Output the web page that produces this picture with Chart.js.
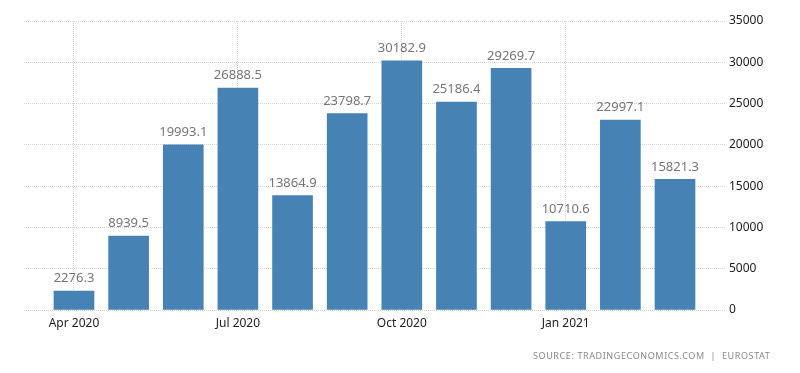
<!DOCTYPE html>
<html>
<head>
<meta charset="utf-8">
<script src="https://cdn.jsdelivr.net/npm/chart.js@4/dist/chart.umd.min.js"></script>
<style>
  html, body { margin: 0; padding: 0; background: #fff; }
  #wrap { position: relative; width: 800px; height: 373px; }
  #source { position: absolute; left: 533px; top: 349px; font-family: "Noto Sans", sans-serif; font-size: 9px; color: #8a8a8a; letter-spacing: 0.6px; white-space: nowrap; }
</style>
</head>
<body>
<div id="wrap">
  <canvas id="c" width="800" height="373"></canvas>
  <div id="source">SOURCE: TRADINGECONOMICS.COM &nbsp;|&nbsp; EUROSTAT</div>
</div>
<script>
const months = ["Apr 2020","May 2020","Jun 2020","Jul 2020","Aug 2020","Sep 2020","Oct 2020","Nov 2020","Dec 2020","Jan 2021","Feb 2021","Mar 2021"];
const values = [2276.3, 8939.5, 19993.1, 26888.5, 13864.9, 23798.7, 30182.9, 25186.4, 29269.7, 10710.6, 22997.1, 15821.3];
const xTickIndices = [0, 3, 6, 9];
const yTicks = [0, 5000, 10000, 15000, 20000, 25000, 30000, 35000];

const labelPlugin = {
  id: 'valueLabels',
  afterDatasetsDraw(chart) {
    const ctx = chart.ctx;
    const meta = chart.getDatasetMeta(0);
    ctx.save();
    ctx.font = '13px "Noto Sans", sans-serif';
    ctx.fillStyle = '#777777';
    ctx.textAlign = 'center';
    ctx.textBaseline = 'bottom';
    meta.data.forEach((bar, i) => {
      ctx.fillText(values[i].toFixed(1), bar.x, bar.y - 6);
    });
    ctx.restore();
  }
};

new Chart(document.getElementById('c'), {
  type: 'bar',
  data: {
    datasets: [{
      data: values.map((v, i) => ({ x: i, y: v })),
      backgroundColor: '#4682b4',
      borderWidth: 0,
      barThickness: 40
    }]
  },
  options: {
    responsive: false,
    animation: false,
    layout: { padding: { left: 24, top: 21, right: 0, bottom: 0 } },
    plugins: { legend: { display: false }, tooltip: { enabled: false } },
    scales: {
      x: {
        type: 'linear',
        offset: false,
        bounds: 'ticks',
        min: -0.915,
        max: 11.915,
        afterBuildTicks(scale) { scale.ticks = xTickIndices.map(v => ({ value: v })); },
        afterFit(scale) { scale.height = 63; },
        ticks: {
          callback: (v) => months[v],
          color: '#222222',
          font: { family: '"Noto Sans", sans-serif', size: 12 },
          padding: 6,
          maxRotation: 0,
          autoSkip: false
        },
        grid: { color: '#d6d6d6', offset: false, drawTicks: false },
        border: { display: false, dash: [1, 1] }
      },
      y: {
        position: 'right',
        min: 0,
        max: 35000,
        afterBuildTicks(scale) { scale.ticks = yTicks.map(v => ({ value: v })); },
        afterFit(scale) { scale.width = 75; },
        ticks: {
          callback: (v) => String(v),
          color: '#222222',
          font: { family: '"Noto Sans", sans-serif', size: 12 },
          padding: 4
        },
        grid: { color: '#d6d6d6', drawTicks: false },
        border: { display: false, dash: [1, 1] }
      }
    }
  },
  plugins: [labelPlugin]
});
</script>
</body>
</html>
